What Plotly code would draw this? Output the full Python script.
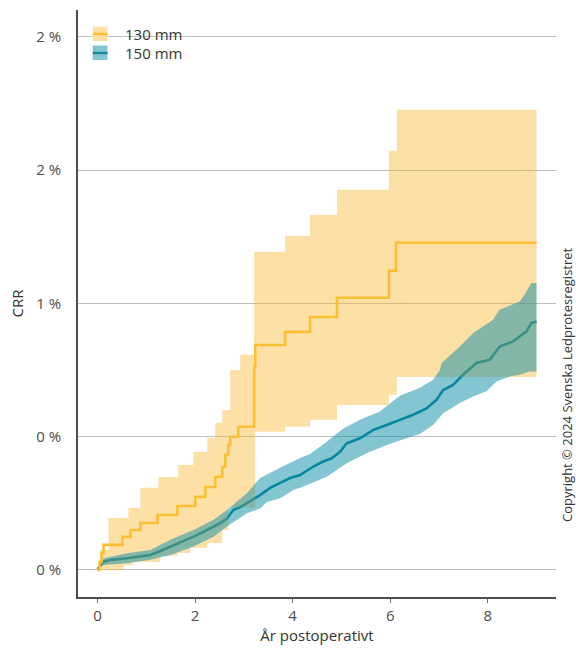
import plotly.graph_objects as go

# ---- 130 mm: cumulative revision rate (%) with confidence band ----
t130 = [0.0, 0.041, 0.082, 0.123, 0.511, 0.675, 0.879, 1.228, 1.637, 2.005, 2.210, 2.414,
        2.558, 2.619, 2.680, 2.721, 2.885, 3.212, 3.233, 3.847, 4.358, 4.910, 5.974, 6.118, 9.0]
crr130 = [0.0, 0.030, 0.064, 0.094, 0.124, 0.150, 0.176, 0.206, 0.240, 0.274, 0.311, 0.349,
          0.386, 0.432, 0.469, 0.499, 0.537, 0.758, 0.844, 0.893, 0.949, 1.021, 1.122, 1.227, 1.227]

t130_hi = [0.0, 0.061, 0.225, 0.634, 0.879, 1.248, 1.657, 1.964, 2.251, 2.414, 2.558, 2.721,
           2.926, 3.212, 3.847, 4.358, 4.910, 5.974, 6.138, 9.0]
hi130 = [0.0, 0.075, 0.195, 0.233, 0.308, 0.349, 0.394, 0.443, 0.495, 0.552, 0.600, 0.750,
         0.807, 1.193, 1.253, 1.332, 1.426, 1.572, 1.726, 1.726]

t130_lo = [0.0, 0.532, 0.716, 1.289, 1.637, 1.903, 2.251, 2.558, 2.680, 3.233, 3.847, 4.358,
           4.910, 5.974, 6.138, 9.0]
lo130 = [0.0, 0.019, 0.030, 0.053, 0.064, 0.083, 0.101, 0.150, 0.233, 0.518, 0.537, 0.563,
         0.619, 0.657, 0.724, 0.724]

# ---- 150 mm ----
t150 = [0.0, 0.027, 0.061, 0.129, 0.266, 0.471, 0.608, 0.880, 1.084, 1.289, 1.494, 1.698,
        1.970, 2.169, 2.379, 2.517, 2.654, 2.783, 2.926, 3.063, 3.192, 3.335, 3.540, 3.744,
        3.949, 4.153, 4.426, 4.604, 4.802, 4.972, 5.109, 5.381, 5.653, 5.927, 6.199, 6.472,
        6.746, 6.950, 7.086, 7.290, 7.494, 7.769, 8.041, 8.246, 8.518, 8.654, 8.792, 8.894, 9.0]
crr150 = [0.004, 0.008, 0.019, 0.031, 0.038, 0.041, 0.044, 0.051, 0.056, 0.071, 0.087, 0.101,
          0.125, 0.143, 0.163, 0.176, 0.193, 0.225, 0.236, 0.250, 0.266, 0.281, 0.308, 0.325,
          0.345, 0.356, 0.388, 0.405, 0.419, 0.443, 0.475, 0.494, 0.525, 0.544, 0.563, 0.582,
          0.606, 0.638, 0.675, 0.694, 0.732, 0.776, 0.788, 0.838, 0.857, 0.876, 0.894, 0.926, 0.932]

t150_hi = [0.0, 0.027, 0.129, 0.608, 1.084, 1.494, 1.970, 2.379, 2.654, 3.063, 3.335, 3.744,
           4.153, 4.358, 4.700, 5.039, 5.381, 5.790, 6.199, 6.609, 6.881, 7.018, 7.053, 7.427,
           7.699, 8.108, 8.246, 8.654, 8.757, 8.894, 9.0]
hi150 = [0.004, 0.013, 0.044, 0.063, 0.075, 0.113, 0.150, 0.188, 0.225, 0.288, 0.345, 0.383,
         0.420, 0.435, 0.481, 0.531, 0.563, 0.594, 0.653, 0.683, 0.713, 0.750, 0.775, 0.838,
         0.888, 0.938, 0.976, 1.007, 1.032, 1.076, 1.076]

t150_lo = [0.0, 0.129, 0.608, 1.084, 1.494, 1.970, 2.379, 2.654, 3.063, 3.335, 3.472, 3.744,
           4.016, 4.153, 4.700, 5.109, 5.518, 5.927, 6.337, 6.609, 6.881, 7.086, 7.427, 7.699,
           7.973, 8.178, 8.450, 8.654, 8.859, 9.0]
lo150 = [0.004, 0.019, 0.025, 0.038, 0.056, 0.088, 0.125, 0.163, 0.213, 0.231, 0.255, 0.269,
         0.300, 0.308, 0.350, 0.400, 0.438, 0.469, 0.494, 0.510, 0.544, 0.588, 0.626, 0.651,
         0.670, 0.707, 0.726, 0.732, 0.744, 0.744]

x_ticks = [0, 2, 4, 6, 8]
y_ticks = [0, 0.5, 1.0, 1.5, 2.0]
y_ticktext = ["0 %", "0 %", "1 %", "2 %", "2 %"]
series_names = ["130 mm", "150 mm"]

ORANGE_LINE = "#FBBF34"
ORANGE_FILL = "rgba(247,178,33,0.40)"
BLUE_LINE = "rgb(2,132,152)"
BLUE_FILL = "rgba(9,139,165,0.50)"
FONT = "Open Sans"
TEXT = "#333333"
TICK = "#4d4d4d"

fig = go.Figure()

# 150 mm estimate sits under both ribbons (the 150 mm curve has many small steps,
# so its points are joined directly)
fig.add_trace(go.Scatter(x=t150, y=crr150, mode="lines", line=dict(color=BLUE_LINE, width=2.6),
                         showlegend=False, hoverinfo="skip"))

# 130 mm ribbon
fig.add_trace(go.Scatter(x=t130_hi, y=hi130, mode="lines", line=dict(width=0, shape="hv"),
                         showlegend=False, hoverinfo="skip"))
fig.add_trace(go.Scatter(x=t130_lo, y=lo130, mode="lines", line=dict(width=0, shape="hv"),
                         fill="tonexty", fillcolor=ORANGE_FILL, showlegend=False, hoverinfo="skip"))

# 150 mm ribbon
fig.add_trace(go.Scatter(x=t150_hi, y=hi150, mode="lines", line=dict(width=0),
                         showlegend=False, hoverinfo="skip"))
fig.add_trace(go.Scatter(x=t150_lo, y=lo150, mode="lines", line=dict(width=0),
                         fill="tonexty", fillcolor=BLUE_FILL, showlegend=False, hoverinfo="skip"))

# 130 mm estimate on top
fig.add_trace(go.Scatter(x=t130, y=crr130, mode="lines", line=dict(color=ORANGE_LINE, width=2.6, shape="hv"),
                         showlegend=False, hoverinfo="skip"))

# plot area in pixels: x 78..556, y 10..597
L, R, T, B = 78, 556, 10, 597


def px(xp):
    return (xp - L) / (R - L)


def py(yp):
    return (B - yp) / (B - T)


shapes = []
annotations = []
legend_items = [
    (series_names[0], "#FCE0A6", ORANGE_LINE, 26.7, 41.0, 34),
    (series_names[1], "#84C5D2", "#168A9C", 45.5, 60.0, 53),
]
for name, fill, line, top, bot, mid in legend_items:
    shapes.append(dict(type="rect", xref="paper", yref="paper", x0=px(92.7), x1=px(107.5),
                       y0=py(bot), y1=py(top), fillcolor=fill, line=dict(width=0), layer="above"))
    shapes.append(dict(type="line", xref="paper", yref="paper", x0=px(92.7), x1=px(107.5),
                       y0=py(mid), y1=py(mid), line=dict(color=line, width=2.4), layer="above"))
    annotations.append(dict(text=name, xref="paper", yref="paper", x=px(123), y=py(mid),
                            xanchor="left", yanchor="middle", showarrow=False,
                            font=dict(family=FONT, size=15, color=TEXT)))

annotations.append(dict(text="Copyright © 2024 Svenska Ledprotesregistret", xref="paper", yref="paper",
                        x=px(567), y=py(385), xanchor="center", yanchor="middle", textangle=-90,
                        showarrow=False, font=dict(family=FONT, size=13, color=TEXT)))

fig.update_layout(
    width=576, height=664,
    margin=dict(l=L, r=576 - R, t=T, b=664 - B),
    plot_bgcolor="white", paper_bgcolor="white",
    font=dict(family=FONT, size=15, color=TEXT),
    shapes=shapes, annotations=annotations,
    xaxis=dict(range=[-0.4, 9.4], tickvals=x_ticks, showgrid=False, zeroline=False,
               showline=True, linecolor=TICK, linewidth=1.6,
               ticks="outside", ticklen=4, tickwidth=1, tickcolor="#6d6d6d",
               tickfont=dict(family=FONT, size=15, color=TICK),
               title=dict(text="År postoperativt", standoff=2,
                          font=dict(family=FONT, size=15, color=TEXT))),
    yaxis=dict(range=[-0.1013, 2.1], tickvals=y_ticks, ticktext=y_ticktext,
               showgrid=True, gridcolor="#bebebe", gridwidth=1, zeroline=False,
               showline=True, linecolor=TICK, linewidth=1.6, ticks="",
               ticklabelstandoff=12,
               tickfont=dict(family=FONT, size=15, color=TICK),
               title=dict(text="CRR", standoff=9,
                          font=dict(family=FONT, size=15, color=TEXT))),
)

fig.write_html("out.html")
